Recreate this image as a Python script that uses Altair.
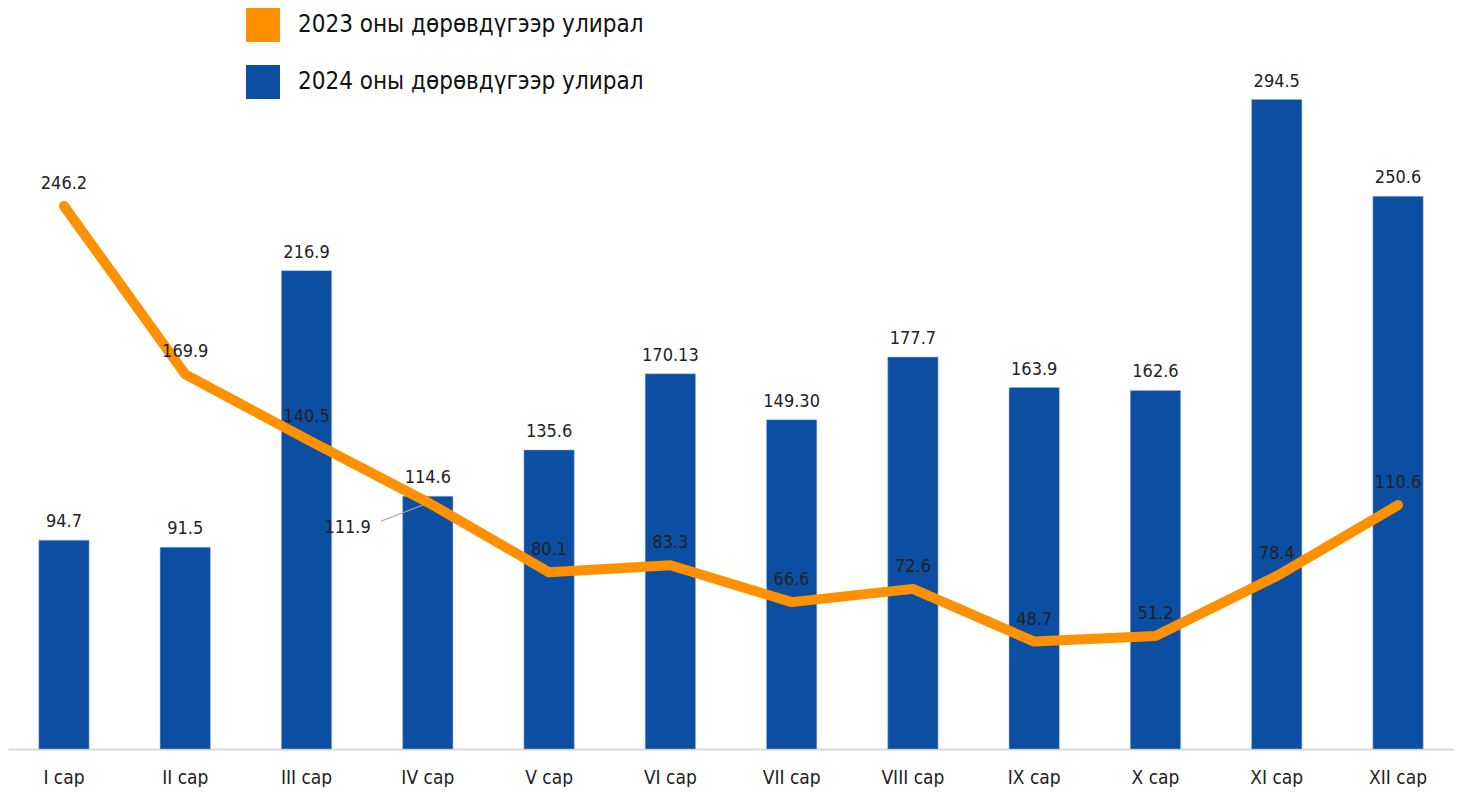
import altair as alt
import pandas as pd

months = ["I сар", "II сар", "III сар", "IV сар", "V сар", "VI сар",
          "VII сар", "VIII сар", "IX сар", "X сар", "XI сар", "XII сар"]
values_2024 = [94.7, 91.5, 216.9, 114.6, 135.6, 170.13, 149.30, 177.7, 163.9, 162.6, 294.5, 250.6]
labels_2024 = ["94.7", "91.5", "216.9", "114.6", "135.6", "170.13", "149.30", "177.7", "163.9", "162.6", "294.5", "250.6"]
values_2023 = [246.2, 169.9, 140.5, 111.9, 80.1, 83.3, 66.6, 72.6, 48.7, 51.2, 78.4, 110.6]
labels_2023 = ["246.2", "169.9", "140.5", "111.9", "80.1", "83.3", "66.6", "72.6", "48.7", "51.2", "78.4", "110.6"]
series_names = ["2023 оны дөрөвдүгээр улирал", "2024 оны дөрөвдүгээр улирал"]
series_colors = ["#FF9100", "#0B4EA2"]

FONT = "Liberation Sans Narrow, DejaVu Sans Condensed, Arial Narrow, sans-serif"

df = pd.DataFrame({
    "month": months,
    "v2024": values_2024,
    "l2024": labels_2024,
    "v2023": values_2023,
    "l2023": labels_2023,
    "series": [series_names[1]] * len(months),
})

x = alt.X("month:N", sort=months, title=None,
          scale=alt.Scale(paddingInner=0.585, paddingOuter=0.254),
          axis=alt.Axis(labelAngle=0, labelFont=FONT, labelFontSize=19, labelColor="#222222",
                        labelPadding=19, ticks=False, domainColor="#D9D9D9", domainWidth=2,
                        grid=False))
yscale = alt.Scale(domain=[0, 336], nice=False, zero=True)

base = alt.Chart(df)

bars = base.mark_bar(stroke="#9FB8DA", strokeWidth=0.5).encode(
    x=x,
    y=alt.Y("v2024:Q", scale=yscale, axis=None),
    color=alt.Color("series:N",
                    scale=alt.Scale(domain=series_names, range=series_colors),
                    legend=alt.Legend(title=None, orient="none", legendX=238, legendY=0,
                                      symbolType="square", symbolSize=1156,
                                      symbolStrokeWidth=0, labelFont=FONT, labelFontSize=24,
                                      labelLimit=0,
                                      labelColor="#111111", labelOffset=18, rowPadding=23,
                                      direction="vertical")),
)

bar_labels = base.mark_text(baseline="bottom", dy=-9, font=FONT, fontSize=18, color="#222222").encode(
    x=alt.X("month:N", sort=months),
    y=alt.Y("v2024:Q", scale=yscale),
    text="l2024:N",
)

line = base.mark_line(color=series_colors[0], strokeWidth=10, strokeCap="round",
                      strokeJoin="round").encode(
    x=alt.X("month:N", sort=months),
    y=alt.Y("v2023:Q", scale=yscale),
)

line_labels = base.transform_filter(alt.datum.month != "IV сар").mark_text(
    baseline="bottom", dy=-13, font=FONT, fontSize=18, color="#222222").encode(
    x=alt.X("month:N", sort=months),
    y=alt.Y("v2023:Q", scale=yscale),
    text="l2023:N",
)

iv_base = base.transform_filter(alt.datum.month == "IV сар")

leader = iv_base.mark_rule(color="#A6A6A6", strokeWidth=1.2, xOffset=-47, x2Offset=-3,
                           yOffset=19, y2Offset=2).encode(
    x=alt.X("month:N", sort=months),
    x2=alt.X2("month:N"),
    y=alt.Y("v2023:Q", scale=yscale),
    y2=alt.Y2("v2023:Q"),
)

line_label_iv = iv_base.mark_text(
    align="right", baseline="middle", dx=-57, dy=26, font=FONT, fontSize=18, color="#222222").encode(
    x=alt.X("month:N", sort=months),
    y=alt.Y("v2023:Q", scale=yscale),
    text="l2023:N",
)

chart = alt.layer(bars, leader, line, bar_labels, line_labels, line_label_iv).properties(
    width=1446, height=741, padding=0, background="white"
).configure_view(stroke=None)

chart.save("out.html", embed_options={"renderer": "svg", "actions": False})
